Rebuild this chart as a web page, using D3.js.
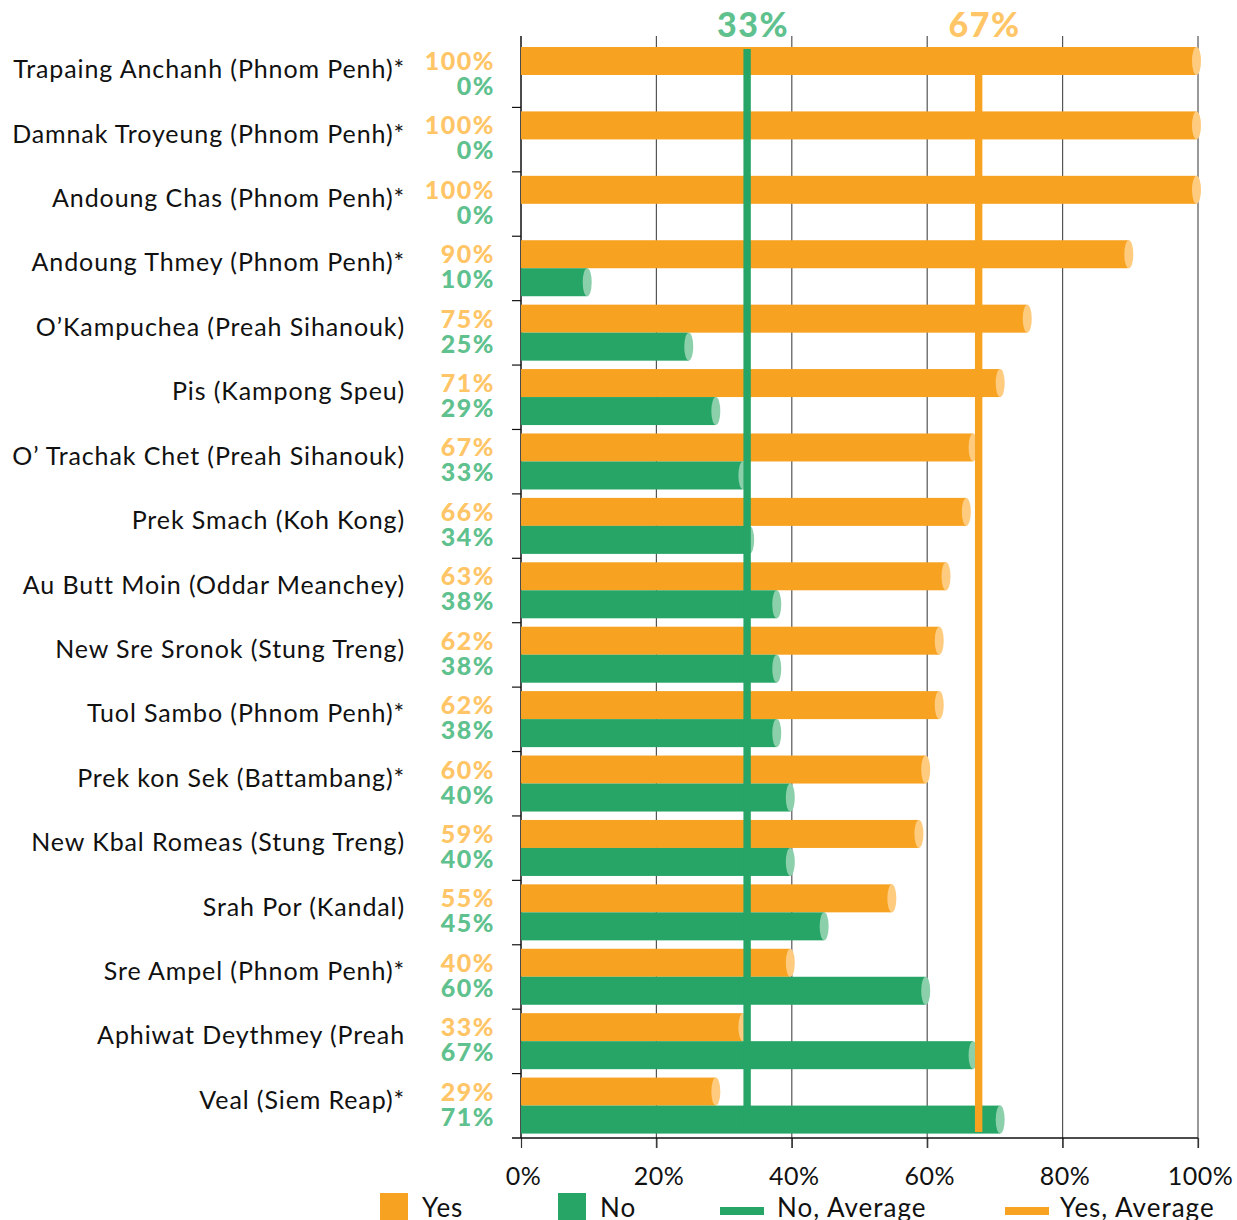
<!DOCTYPE html>
<html lang="en">
<head>
  <meta charset="utf-8">
  <title>Yes / No by site</title>
  <script src="https://d3js.org/d3.v7.min.js"></script>
  <style>
    body { margin: 0; background: #fff; }
    #chart text { font-family: Lato, "Open Sans", sans-serif; }
  </style>
</head>
<body>
  <div id="chart"></div>

  <script>
    "use strict"

    // data, top row first
    var sites = [
      "Trapaing Anchanh (Phnom Penh)*",
      "Damnak Troyeung (Phnom Penh)*",
      "Andoung Chas (Phnom Penh)*",
      "Andoung Thmey (Phnom Penh)*",
      "O\u2019Kampuchea (Preah Sihanouk)",
      "Pis (Kampong Speu)",
      "O\u2019 Trachak Chet (Preah Sihanouk)",
      "Prek Smach (Koh Kong)",
      "Au Butt Moin (Oddar Meanchey)",
      "New Sre Sronok (Stung Treng)",
      "Tuol Sambo (Phnom Penh)*",
      "Prek kon Sek (Battambang)*",
      "New Kbal Romeas (Stung Treng)",
      "Srah Por (Kandal)",
      "Sre Ampel (Phnom Penh)*",
      "Aphiwat Deythmey (Preah",
      "Veal (Siem Reap)*"
    ];
    var yesValues = [100, 100, 100, 90, 75, 71, 67, 66, 63, 62, 62, 60, 59, 55, 40, 33, 29];
    var noValues  = [0, 0, 0, 10, 25, 29, 33, 34, 38, 38, 38, 40, 40, 45, 60, 67, 71];

    var averageValues = [33.4, 67.6];        // No, Yes
    var averageLabels = ["33%", "67%"];
    var xTicks = [0, 20, 40, 60, 80, 100];
    var legendNames = ["Yes", "No", "No, Average", "Yes, Average"];

    var ORANGE = "#f7a221", GREEN = "#27a567";
    var ORANGE_LIGHT = "#ffc566", GREEN_LIGHT = "#5fc18e";
    var ORANGE_CAP = "#ffcb7f", GREEN_CAP = "#8bd0ab";

    var W = 1237, H = 1220;
    var svg = d3.select("#chart").append("svg")
      .attr("width", W).attr("height", H);

    var x = d3.scaleLinear().domain([0, 100]).range([521, 1198]);
    var y = d3.scaleBand().domain(sites).range([43, 1138]).paddingInner(0).paddingOuter(0);
    var barH = 28, plotTop = 36, plotBottom = 1138;

    // gridlines
    svg.append("g").selectAll("line")
      .data(xTicks.slice(1))
      .join("line")
        .attr("x1", d => x(d)).attr("x2", d => x(d))
        .attr("y1", plotTop).attr("y2", plotBottom + 10)
        .attr("stroke", "#555").attr("stroke-width", 1.2);

    // bottom axis (ticks hang below)
    var xAxis = svg.append("g")
      .attr("transform", "translate(0," + plotBottom + ")")
      .call(d3.axisBottom(x).tickValues(xTicks).tickSize(10).tickFormat(d => d + "%"));
    xAxis.select(".domain").remove();
    xAxis.selectAll(".tick line").attr("stroke", "#333").attr("stroke-width", 1.2);
    xAxis.selectAll(".tick text")
      .attr("dy", null).attr("y", 47).attr("dx", 2)
      .attr("font-size", 25).attr("letter-spacing", 0.5).attr("fill", "#111");

    svg.append("line")
      .attr("x1", 512).attr("x2", x(100))
      .attr("y1", plotBottom).attr("y2", plotBottom)
      .attr("stroke", "#111").attr("stroke-width", 1.5);
    svg.append("line")
      .attr("x1", x(0)).attr("x2", x(0))
      .attr("y1", plotTop).attr("y2", plotBottom)
      .attr("stroke", "#111").attr("stroke-width", 1.5);

    // left ticks sit between the rows
    svg.append("g").selectAll("line")
      .data(sites.slice(1))
      .join("line")
        .attr("x1", 512).attr("x2", x(0))
        .attr("y1", d => y(d)).attr("y2", d => y(d))
        .attr("stroke", "#111").attr("stroke-width", 1.2);

    var rows = sites.map((s, i) => ({ site: s, yes: yesValues[i], no: noValues[i] }));

    function drawBars(key, offset, fill, cap) {
      var g = svg.append("g");
      var withBars = rows.filter(d => d[key] > 0);
      g.selectAll("rect")
        .data(withBars)
        .join("rect")
          .attr("x", x(0))
          .attr("y", d => y(d.site) + offset)
          .attr("width", d => x(d[key]) - x(0) - 1.5)
          .attr("height", barH)
          .attr("fill", fill);
      g.selectAll("ellipse")
        .data(withBars)
        .join("ellipse")
          .attr("cx", d => x(d[key]) - 1.5)
          .attr("cy", d => y(d.site) + offset + barH / 2)
          .attr("rx", 4.5).attr("ry", barH / 2)
          .attr("fill", cap);
    }
    drawBars("yes", 4, ORANGE, ORANGE_CAP);
    drawBars("no", 4 + barH, GREEN, GREEN_CAP);

    // average lines + labels on top
    var avgColors = [GREEN, ORANGE], avgLabelColors = [GREEN_LIGHT, ORANGE_LIGHT];
    svg.append("g").selectAll("rect")
      .data(averageValues)
      .join("rect")
        .attr("x", d => x(d) - 3.7)
        .attr("y", 49)
        .attr("width", 7.4)
        .attr("height", 1132 - 49)
        .attr("fill", (d, i) => avgColors[i]);
    svg.append("g").selectAll("text")
      .data(averageValues)
      .join("text")
        .attr("x", d => x(d) + 6)
        .attr("y", 37)
        .attr("text-anchor", "middle")
        .attr("font-size", 34).attr("font-weight", 900).attr("letter-spacing", 1.5)
        .attr("fill", (d, i) => avgLabelColors[i])
        .text((d, i) => averageLabels[i]);

    // category labels
    svg.append("g").selectAll("text")
      .data(rows)
      .join("text")
        .attr("x", 405)
        .attr("y", d => y(d.site) + y.bandwidth() / 2 + 3)
        .attr("text-anchor", "end")
        .attr("font-size", 25).attr("letter-spacing", 0.9).attr("fill", "#111")
        .text(d => d.site);

    // value labels
    var vals = svg.append("g")
      .attr("font-size", 25).attr("font-weight", 900)
      .attr("letter-spacing", 1.5).attr("text-anchor", "end");
    vals.selectAll("text.yes")
      .data(rows)
      .join("text").attr("class", "yes")
        .attr("x", 495)
        .attr("y", d => y(d.site) + 27)
        .attr("fill", ORANGE_LIGHT)
        .text(d => d.yes + "%");
    vals.selectAll("text.no")
      .data(rows)
      .join("text").attr("class", "no")
        .attr("x", 495)
        .attr("y", d => y(d.site) + 52)
        .attr("fill", GREEN_LIGHT)
        .text(d => d.no + "%");

    // legend
    var legend = [
      { name: legendNames[0], color: ORANGE, kind: "box", x: 380, tx: 422 },
      { name: legendNames[1], color: GREEN, kind: "box", x: 558, tx: 600 },
      { name: legendNames[2], color: GREEN, kind: "line", x: 720, tx: 777 },
      { name: legendNames[3], color: ORANGE, kind: "line", x: 1005, tx: 1060 }
    ];
    var lg = svg.append("g");
    lg.selectAll("rect")
      .data(legend)
      .join("rect")
        .attr("x", d => d.x)
        .attr("y", d => d.kind === "box" ? 1193 : 1207)
        .attr("width", d => d.kind === "box" ? 28 : 44)
        .attr("height", d => d.kind === "box" ? 30 : 8)
        .attr("fill", d => d.color);
    lg.selectAll("text")
      .data(legend)
      .join("text")
        .attr("x", d => d.tx)
        .attr("y", 1217)
        .attr("font-size", 26).attr("letter-spacing", 1).attr("fill", "#111")
        .text(d => d.name);
  </script>
</body>
</html>
